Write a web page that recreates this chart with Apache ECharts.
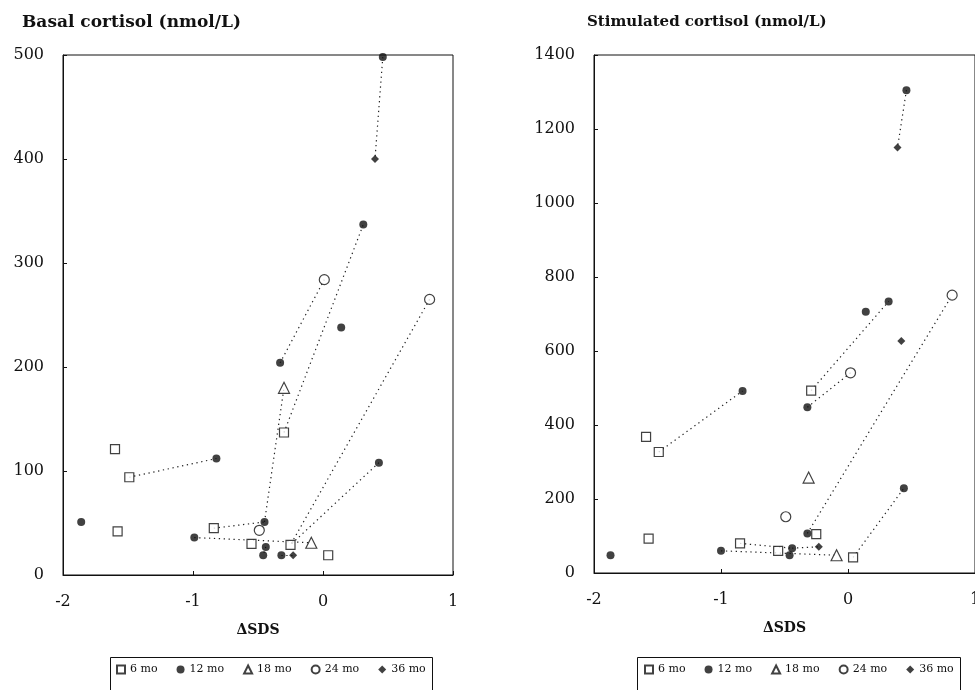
<!DOCTYPE html>
<html><head><meta charset="utf-8">
<script src="https://cdn.jsdelivr.net/npm/echarts@6/dist/echarts.min.js"></script>
<style>html,body{margin:0;padding:0;background:#fff}#c{width:975px;height:690px}</style>
</head><body><div id="c"></div>
<script>
// ---------- data ----------
const groupNames = ['6 mo', '12 mo', '18 mo', '24 mo', '36 mo'];

const basal6  = [[-1.60,121],[-1.49,94],[-1.58,42],[-0.84,45],[-0.30,137],[-0.55,30],[-0.25,29],[0.04,19]];
const basal12 = [[-1.86,51],[-0.82,112],[-0.45,51],[-0.33,204],[0.31,337],[0.14,238],[0.43,108],[-0.99,36],[-0.44,27],[-0.46,19],[-0.32,19],[0.46,498]];
const basal18 = [[-0.30,180],[-0.09,31]];
const basal24 = [[0.01,284],[0.82,265],[-0.49,43]];
const basal36 = [[0.40,400],[-0.23,19]];
const basalLinks = [
  [[-1.49,94],[-0.82,112]],
  [[-0.84,45],[-0.45,51]],
  [[-0.45,51],[-0.30,180]],
  [[-0.30,137],[0.31,337]],
  [[-0.33,204],[0.01,284]],
  [[0.82,265],[-0.25,29]],
  [[0.43,108],[-0.25,29]],
  [[-0.99,36],[-0.09,31]],
  [[-0.44,27],[-0.46,19]],
  [[-0.32,19],[-0.23,19]],
  [[0.46,498],[0.40,400]]
];

const stim6  = [[-1.59,368],[-1.49,327],[-1.57,93],[-0.85,80],[-0.55,60],[-0.29,493],[-0.25,105],[0.04,42]];
const stim12 = [[-1.87,48],[-0.83,492],[-1.00,60],[-0.44,67],[-0.46,48],[-0.32,107],[-0.32,448],[0.32,734],[0.14,706],[0.44,229],[0.46,1305]];
const stim18 = [[-0.31,258],[-0.09,48]];
const stim24 = [[-0.49,152],[0.02,541],[0.82,751]];
const stim36 = [[-0.23,71],[0.42,627],[0.39,1150]];
const stimLinks = [
  [[-1.49,327],[-0.83,492]],
  [[-1.00,60],[-0.09,48]],
  [[-0.85,80],[-0.44,67]],
  [[-0.44,67],[-0.23,71]],
  [[-0.32,107],[0.82,751]],
  [[0.04,42],[0.44,229]],
  [[-0.29,493],[0.32,734]],
  [[-0.32,448],[0.02,541]],
  [[0.46,1305],[0.39,1150]]
];

const titles = ['Basal cortisol (nmol/L)', 'Stimulated cortisol (nmol/L)'];
const xName = '\u0394SDS';
const xRange = [-2, 1, 1];
const basalRange = [0, 500, 100];
const stimRange = [0, 1400, 200];

// ---------- styling ----------
const FONT = 'DejaVu Serif';
const INK = '#111';
const symbolStyles = [
  {symbol:'rect', symbolSize:9, itemStyle:{color:'#fff', borderColor:INK, borderWidth:1.2}},
  {symbol:'circle', symbolSize:8, itemStyle:{color:INK}},
  {symbol:'triangle', symbolSize:11, itemStyle:{color:'#fff', borderColor:INK, borderWidth:1.2}},
  {symbol:'circle', symbolSize:10, itemStyle:{color:'#fff', borderColor:INK, borderWidth:1.2}},
  {symbol:'diamond', symbolSize:8, itemStyle:{color:INK}}
];

function xAxisFor(gi){
  return {
    gridIndex: gi, type:'value', min:xRange[0], max:xRange[1], interval:xRange[2],
    name:xName, nameLocation:'middle', nameGap:48,
    nameTextStyle:{fontFamily:FONT, fontWeight:'bold', fontSize:14, color:INK},
    axisLine:{show:true, onZero:false, lineStyle:{color:INK, width:1}},
    axisTick:{show:true, inside:true, length:4, lineStyle:{color:INK}},
    axisLabel:{fontFamily:FONT, fontSize:16, color:INK, margin:19, hideOverlap:false},
    splitLine:{show:false}
  };
}
function yAxisFor(gi, r){
  return {
    gridIndex: gi, type:'value', min:r[0], max:r[1], interval:r[2],
    axisLine:{show:true, onZero:false, lineStyle:{color:INK, width:1}},
    axisTick:{show:true, inside:true, length:4, lineStyle:{color:INK}},
    axisLabel:{fontFamily:FONT, fontSize:16, color:INK, margin:19, formatter:(v)=>String(v)},
    splitLine:{show:false}
  };
}

const series = [];
const panels = [
  [basal6, basal12, basal18, basal24, basal36],
  [stim6, stim12, stim18, stim24, stim36]
];
const linkSets = [basalLinks, stimLinks];
panels.forEach((groups, gi) => {
  series.push({
    type:'lines', coordinateSystem:'cartesian2d', xAxisIndex:gi, yAxisIndex:gi,
    z:1, silent:true,
    lineStyle:{color:'#222', width:1.2, type:[1.3,3.6], opacity:1},
    data: linkSets[gi].map(c => ({coords:c}))
  });
  groups.forEach((d, k) => {
    series.push(Object.assign({
      type:'scatter', name:groupNames[k], xAxisIndex:gi, yAxisIndex:gi, z:3,
      data:d
    }, symbolStyles[k]));
  });
});

function legendFor(left){
  return {
    left:left, top:664, orient:'horizontal', itemGap:19, itemWidth:8, itemHeight:8,
    selectedMode:false, data:groupNames, padding:0,
    textStyle:{fontFamily:FONT, fontSize:11, color:INK}
  };
}

const chart = echarts.init(document.getElementById('c'), null, {renderer:'canvas'});
chart.setOption({
  animation:false,
  backgroundColor:'#fff',
  title:[
    {text:titles[0], left:17, top:9, textStyle:{fontFamily:FONT, fontWeight:'bold', fontSize:17, color:INK}},
    {text:titles[1], left:582, top:10, textStyle:{fontFamily:FONT, fontWeight:'bold', fontSize:15, color:INK}}
  ],
  grid:[
    {left:63, top:55, width:390, height:520, show:true, borderColor:INK, borderWidth:1, backgroundColor:'transparent', outerBoundsMode:'none', containLabel:false},
    {left:594, top:55, width:381, height:518, show:true, borderColor:INK, borderWidth:1, backgroundColor:'transparent', outerBoundsMode:'none', containLabel:false}
  ],
  xAxis:[xAxisFor(0), xAxisFor(1)],
  yAxis:[yAxisFor(0, basalRange), yAxisFor(1, stimRange)],
  legend:[legendFor(116), legendFor(644)],
  graphic:[
    {type:'rect', left:108, top:655, shape:{width:322, height:50}, style:{fill:'none', stroke:INK, lineWidth:1}},
    {type:'rect', left:635, top:655, shape:{width:323, height:50}, style:{fill:'none', stroke:INK, lineWidth:1}}
  ],
  series:series
});
</script>
</body></html>
